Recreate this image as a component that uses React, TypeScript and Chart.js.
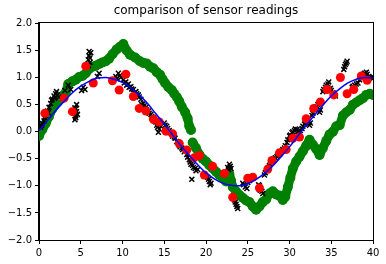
import React, { useEffect, useRef } from "react";
import { Chart, registerables } from "chart.js";

Chart.register(...registerables);

const TITLE = "comparison of sensor readings";

const blueX = [0,1,2,3,4,5,6,7,8,9,10,11,12,13,14,15,16,17,18,19,20,21,22,23,24,25,26,27,28,29,30,31,32,33,34,35,36,37,38,39,40];
const blueY = [0.02,0.2,0.39,0.56,0.72,0.84,0.93,0.99,1.0,0.97,0.91,0.81,0.68,0.52,0.33,0.14,-0.06,-0.26,-0.44,-0.61,-0.76,-0.87,-0.95,-0.99,-1.0,-0.96,-0.88,-0.77,-0.63,-0.46,-0.28,-0.08,0.12,0.31,0.49,0.66,0.79,0.9,0.97,1.0,0.99];

const redX = [0.7,3.0,4.0,5.6,6.5,8.8,9.6,10.4,11.3,12.0,12.8,13.7,14.4,15.2,16.0,16.8,17.7,18.6,19.2,19.8,20.8,22.2,23.2,25.0,25.6,26.4,27.4,27.9,28.8,29.6,30.4,31.2,32.0,32.9,33.7,34.5,35.3,36.1,36.9,37.7,38.6,39.3];
const redY = [0.34,0.62,0.37,1.21,0.9,0.94,0.77,1.06,0.65,0.43,0.38,0.23,0.18,0.01,-0.04,-0.22,-0.34,-0.48,-0.44,-0.8,-0.64,-0.77,-1.21,-0.86,-0.84,-1.04,-0.69,-0.53,-0.39,-0.33,-0.12,-0.1,0.24,0.43,0.55,0.78,0.68,1.0,0.7,0.78,1.03,0.95];

const blackX = [0.2,0.4,0.6,0.8,1.0,1.2,1.4,1.6,1.8,2.0,2.2,2.4,3.1,3.5,3.8,4.3,4.4,4.5,4.3,4.5,5.1,5.3,5.5,5.8,5.9,6.0,6.2,6.1,7.0,7.2,9.2,9.5,9.8,10.1,10.4,10.7,11.0,11.3,11.6,11.9,12.2,12.5,12.8,13.1,13.4,13.7,14.0,14.2,14.3,14.6,15.0,15.3,15.6,15.9,16.2,16.5,16.8,17.1,17.4,17.7,18.0,18.2,18.5,18.8,19.0,18.3,20.2,20.4,20.5,22.6,22.8,23.0,23.4,23.6,23.8,24.4,24.7,25.0,25.3,26.3,26.5,26.8,27.0,27.3,27.6,27.9,28.2,28.5,28.8,29.1,29.4,29.7,30.0,30.3,30.6,30.9,31.2,31.5,31.8,32.1,32.4,32.7,33.0,33.3,33.6,34.0,34.3,34.6,34.9,35.2,35.5,36.5,36.7,36.9,37.5,37.8,38.2,38.5,38.9,39.2,39.5,39.8,
  0.3,0.7,1.1,1.5,1.9,2.1,4.4,4.4,4.6,5.9,6.1,6.0,9.3,9.7,10.2,10.5,10.8,11.1,11.4,11.7,12.0,12.3,12.6,12.9,13.2,13.5,13.8,14.1,14.4,15.1,15.4,15.7,16.0,16.3,16.6,16.9,17.2,17.5,17.8,18.1,18.4,18.7,20.3,20.6,22.7,22.9,23.5,23.7,24.5,24.9,25.2,26.4,26.7,27.1,27.4,27.7,28.0,28.3,28.6,28.9,29.2,29.5,29.8,30.1,30.4,30.7,31.0,31.3,31.6,31.9,32.2,32.5,32.8,33.1,33.4,33.7,34.1,34.4,34.7,35.0,35.3,36.6,36.8,37.6,38.0,38.4,38.7,39.0,39.3,39.6,39.9];
const blackY = [0.08,0.15,0.2,0.3,0.38,0.45,0.52,0.6,0.66,0.7,0.68,0.64,0.76,0.86,0.78,0.22,0.3,0.37,0.44,0.5,0.76,0.82,0.78,1.24,1.33,1.4,1.46,1.28,1.02,1.08,1.02,1.08,1.0,0.96,0.92,0.88,0.83,0.78,0.74,0.68,0.6,0.52,0.45,0.38,0.32,0.26,0.18,0.08,-0.01,0.1,0.16,0.1,0.02,-0.04,-0.1,-0.18,-0.25,-0.3,-0.37,-0.42,-0.52,-0.6,-0.66,-0.72,-0.7,-0.88,-0.84,-0.92,-0.98,-0.66,-0.6,-0.68,-1.26,-1.34,-1.42,-0.95,-1.02,-0.94,-0.88,-0.98,-1.08,-1.14,-0.8,-0.72,-0.63,-0.57,-0.52,-0.46,-0.42,-0.36,-0.3,-0.2,-0.08,-0.02,0.02,0.04,-0.02,0.06,0.14,0.2,0.12,0.3,0.4,0.46,0.36,0.74,0.82,0.88,0.8,0.72,0.66,1.15,1.24,1.3,0.82,0.86,0.9,1.02,1.06,1.1,1.02,1.0,
  0.12,0.26,0.35,0.58,0.62,0.74,0.26,0.42,0.32,1.22,1.36,1.48,0.98,1.04,0.9,0.86,0.82,0.79,0.72,0.7,0.64,0.5,0.48,0.4,0.34,0.28,0.2,0.12,0.05,0.12,0.06,-0.02,-0.08,-0.12,-0.2,-0.28,-0.33,-0.34,-0.47,-0.56,-0.62,-0.68,-0.88,-0.95,-0.7,-0.64,-1.3,-1.38,-0.98,-1.05,-0.9,-1.0,-1.1,-0.76,-0.68,-0.6,-0.55,-0.48,-0.44,-0.4,-0.33,-0.26,-0.15,-0.06,0.0,0.05,0.0,0.02,0.1,0.16,0.22,0.16,0.34,0.42,0.5,0.4,0.78,0.86,0.92,0.76,0.7,1.2,1.27,0.84,0.88,0.96,1.04,1.08,1.06,1.0,0.98];

const greenX = [0.0,0.4,0.8,1.2,1.6,2.0,2.4,2.8,3.2,3.5,4.0,4.4,4.8,5.2,5.6,6.0,6.4,6.8,7.2,7.6,8.0,8.4,8.8,9.3,9.7,10.1,10.5,10.9,11.5,12.1,12.5,12.9,13.3,13.7,14.1,14.5,14.8,15.1,15.5,15.9,16.2,16.5,16.8,17.1,17.5,17.8,18.0,18.2,18.3,18.4,18.8,19.2,19.6,20.0,20.4,20.8,21.2,21.6,22.0,22.4,22.8,23.0,23.2,23.6,24.0,24.4,24.8,25.2,25.6,26.0,26.4,26.8,27.2,27.6,28.0,28.4,28.8,29.2,29.5,29.8,30.1,30.4,30.8,31.2,31.6,32.0,32.4,32.8,33.2,33.6,34.0,34.4,34.8,35.2,35.6,36.0,36.4,36.8,37.2,37.6,38.0,38.4,38.8,39.2,39.6,40.0];
const greenY = [-0.08,0.04,0.15,0.28,0.42,0.52,0.6,0.66,0.72,0.88,0.93,0.96,1.01,1.03,1.08,1.16,1.2,1.22,1.25,1.28,1.3,1.35,1.43,1.52,1.57,1.62,1.5,1.42,1.37,1.3,1.27,1.26,1.2,1.17,1.1,1.05,0.97,0.9,0.82,0.77,0.7,0.64,0.56,0.46,0.36,0.25,0.1,0.03,null,-0.2,-0.3,-0.42,-0.5,-0.55,-0.62,-0.68,-0.74,-0.8,-0.85,-0.92,-0.78,-0.9,-1.02,-1.1,-1.17,-1.22,-1.27,-1.3,-1.38,-1.44,-1.38,-1.3,-1.25,-1.14,-1.1,-1.16,-1.18,-1.26,-1.2,-1.02,-0.85,-0.68,-0.55,-0.46,-0.36,-0.26,-0.15,-0.24,-0.32,-0.43,-0.3,-0.17,-0.05,0.0,0.1,0.12,0.3,0.36,0.4,0.5,0.54,0.58,0.62,0.68,0.7,0.68];

const xTicks = [0, 5, 10, 15, 20, 25, 30, 35, 40];
const yTicks = [-2.0, -1.5, -1.0, -0.5, 0.0, 0.5, 1.0, 1.5, 2.0];

const pts = (xs: number[], ys: (number | null)[]) => xs.map((x, i) => ({ x, y: ys[i] }));

const framePlugin = {
  id: "frame",
  afterDraw(chart: any) {
    const { ctx, chartArea } = chart;
    ctx.save();
    ctx.strokeStyle = "#000";
    ctx.lineWidth = 1;
    ctx.strokeRect(Math.round(chartArea.left) - 0.5, Math.round(chartArea.top) - 0.5, Math.round(chartArea.right - chartArea.left) + 1, Math.round(chartArea.bottom - chartArea.top) + 1);
    ctx.restore();
  },
};

export default function App() {
  const ref = useRef<HTMLCanvasElement>(null);
  useEffect(() => {
    const fmt = (v: number) => v.toFixed(1).replace("-", "\u2212");
    const font = { family: "'DejaVu Sans', sans-serif", size: 10 };
    const chart = new Chart(ref.current!, {
      type: "scatter",
      data: {
        datasets: [
          {
            type: "line",
            data: pts(blueX, blueY),
            borderColor: "#0000ff",
            borderWidth: 1.5,
            pointRadius: 0,
            tension: 0.4,
            cubicInterpolationMode: "monotone",
            order: 0,
          } as any,
          {
            data: pts(redX, redY),
            backgroundColor: "#ff0000",
            borderColor: "#ff0000",
            pointRadius: 4.5,
            borderWidth: 0,
            order: 1,
          },
          {
            data: pts(blackX, blackY),
            pointStyle: "crossRot",
            borderColor: "#000",
            pointRadius: 3.5,
            borderWidth: 1.5,
            order: 2,
          },
          {
            type: "line",
            data: pts(greenX, greenY),
            borderColor: "#008000",
            backgroundColor: "#008000",
            borderWidth: 9,
            borderCapStyle: "round",
            borderJoinStyle: "round",
            pointRadius: 5,
            pointBorderWidth: 0,
            spanGaps: false,
            order: 3,
          } as any,
        ],
      },
      options: {
        animation: false,
        responsive: false,
        devicePixelRatio: 1,
        layout: { padding: { left: 0, right: 13, top: 0, bottom: 0 } },
        plugins: {
          legend: { display: false },
          tooltip: { enabled: false },
          title: {
            display: true,
            text: TITLE,
            fullSize: false,
            color: "#000",
            font: { family: "'DejaVu Sans', sans-serif", size: 12, weight: "normal" },
            padding: { top: 4, bottom: 5 },
          },
        },
        scales: {
          x: {
            type: "linear",
            min: 0,
            max: 40,
            afterBuildTicks: (s: any) => { s.ticks = xTicks.map((v) => ({ value: v })); },
            afterFit: (s: any) => { s.height = 24; },
            grid: { display: true, drawOnChartArea: false, drawTicks: true, tickLength: 4, color: "#000" },
            border: { display: true, color: "#000", width: 1 },
            ticks: { color: "#000", font, padding: 3, maxRotation: 0, callback: (v: any) => String(v) },
          },
          y: {
            type: "linear",
            min: -2,
            max: 2,
            afterBuildTicks: (s: any) => { s.ticks = yTicks.map((v) => ({ value: v })); },
            afterFit: (s: any) => { s.width = 39; },
            grid: { display: true, drawOnChartArea: false, drawTicks: true, tickLength: 4, color: "#000" },
            border: { display: true, color: "#000", width: 1 },
            ticks: { color: "#000", font, padding: 3, callback: (v: any) => fmt(Number(v)) },
          },
        },
      },
      plugins: [framePlugin],
    });
    return () => chart.destroy();
  }, []);
  return (
    <div style={{ position: "fixed", left: 0, top: 0, width: 386, height: 264, background: "#fff" }}>
      <canvas ref={ref} width={386} height={264} style={{ width: 386, height: 264, display: "block" }} />
    </div>
  );
}
